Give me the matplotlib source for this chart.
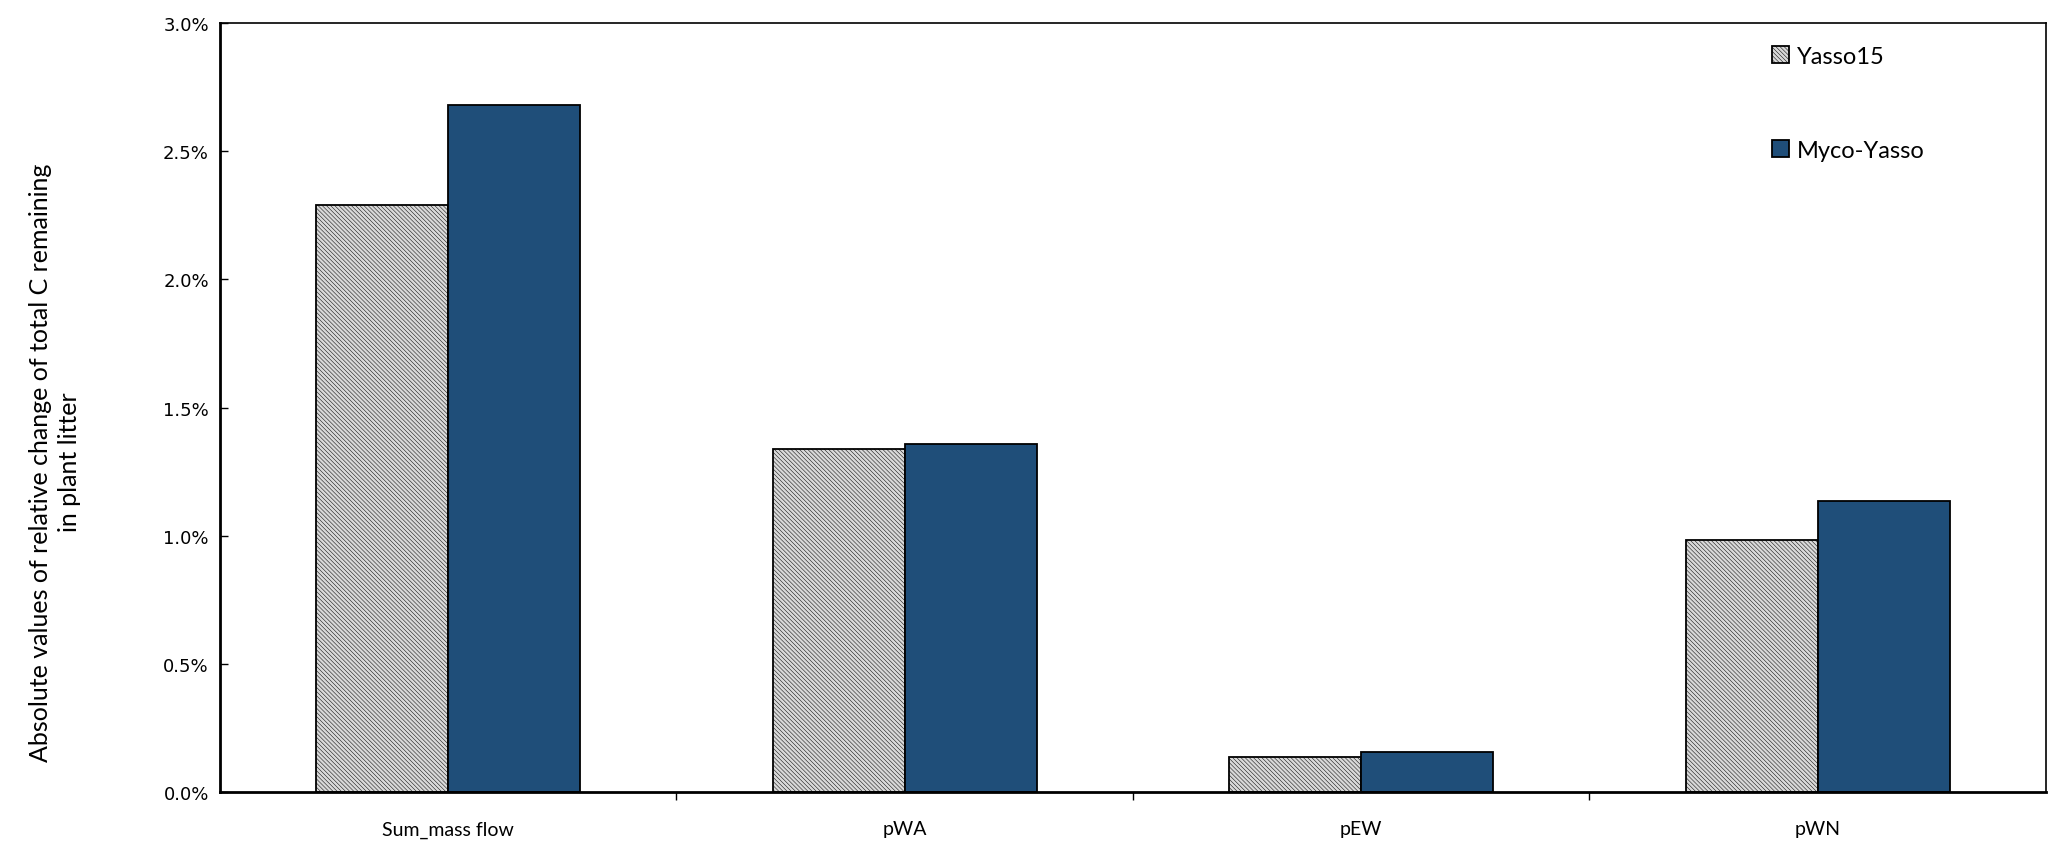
import numpy as np
import matplotlib
import matplotlib.pyplot as plt
from matplotlib.ticker import FuncFormatter, FixedLocator

plt.rcParams["hatch.linewidth"] = 0.35
plt.rcParams["hatch.color"] = "#b4b4b4"

# data
categories = ["Sum_mass flow", "pWA", "pEW", "pWN"]
yasso15 = [2.29, 1.34, 0.14, 0.983]
myco_yasso = [2.68, 1.36, 0.158, 1.135]

x_pos = np.arange(len(categories))
w = 0.289

fig = plt.figure(figsize=(20.67, 8.53), dpi=100)
ax = fig.add_axes([0.1064, 0.0698, 0.8834, 0.9024])

ax.bar(x_pos - w / 2, yasso15, w, color="#d9d9d9", hatch="\\\\\\\\\\\\\\\\",
       edgecolor="black", linewidth=1.3, label="Yasso15")
ax.bar(x_pos + w / 2, myco_yasso, w, color="#1f4e79",
       edgecolor="black", linewidth=1.3, label="Myco-Yasso")

ax.set_xlim(-0.5, len(categories) - 0.5)
ax.set_ylim(0, 3.0)

# y axis
ax.set_yticks(np.arange(0, 3.01, 0.5))
ax.yaxis.set_major_formatter(FuncFormatter(lambda v, p: "%.1f%%" % v))
ax.tick_params(axis="y", direction="in", length=6, width=1, labelsize=13, pad=8)

# x axis: labels at centers, ticks at boundaries
ax.set_xticks(x_pos)
ax.set_xticklabels(categories, fontsize=14, fontfamily="Lato")
ax.tick_params(axis="x", which="major", length=0, pad=20)
ax.xaxis.set_minor_locator(FixedLocator(x_pos[:-1] + 0.5))
ax.tick_params(axis="x", which="minor", direction="out", length=6, width=1)

for s in ax.spines.values():
    s.set_linewidth(1.2)
ax.spines["left"].set_linewidth(2)
ax.spines["bottom"].set_linewidth(2)

ax.set_ylabel("Absolute values of relative change of total C remaining\nin plant litter",
              fontsize=18, fontfamily="Lato", linespacing=1.35)
ax.yaxis.set_label_coords(-0.076, 0.43)

leg = ax.legend(loc="upper right", bbox_to_anchor=(0.945, 0.998), frameon=False,
                prop={"family": "Lato", "size": 17},
                labelspacing=3.1, handlelength=0.75, handleheight=0.75,
                handletextpad=0.3)

plt.savefig("out.png", dpi=100)
